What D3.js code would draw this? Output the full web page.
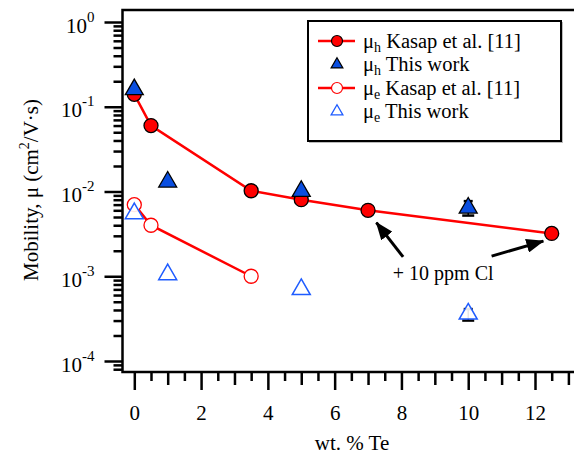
<!DOCTYPE html>
<html lang="en">
<head>
<meta charset="UTF-8">
<title>Mobility vs Te</title>
<script src="https://d3js.org/d3.v7.min.js"></script>
<style>
    body { margin: 0; background: white; }
    svg, svg text { font-family: "Liberation Serif", "Times New Roman", serif; }
</style>
</head>
<body>
<svg width="574" height="454"></svg>
<script>
// data
const teHK = [0, 0.5, 3.5, 5, 7, 12.5];
const muHK = [0.14, 0.06, 0.0102, 0.008, 0.006, 0.0032];
const teHW = [0, 1, 5, 10];
const muHW = [0.16, 0.013, 0.0101, 0.0064];
const teEK = [0, 0.5, 3.5];
const muEK = [0.007, 0.004, 0.001];
const teEW = [0, 1, 5, 10];
const muEW = [0.0055, 0.00105, 0.0007, 0.00036];
// small error bars mostly hidden behind the 10 % points
const errTe = [10, 10];
const errLo = [0.0052, 0.0003];
const errHi = [0.0077, 0.00041];

const xMajor = [0, 2, 4, 6, 8, 10, 12];
const xMid = [1, 3, 5, 7, 9, 11, 13];
const xMinor = [0.5, 1.5, 2.5, 3.5, 4.5, 5.5, 6.5, 7.5, 8.5, 9.5, 10.5, 11.5, 12.5];
const yExp = [0, -1, -2, -3, -4];

const legendLabels = [
    ["h", " Kasap et al. [11]"],
    ["h", " This work"],
    ["e", " Kasap et al. [11]"],
    ["e", " This work"]
];
const noteText = "+ 10 ppm Cl";
// arrows, in data units: [fromTe, fromMu, toTe, toMu]
const arrows = [
    [8.05, 0.00169, 7.25, 0.0043],
    [10.7, 0.00173, 12.25, 0.0026]
];

const FONT = "Liberation Serif";
const svg = d3.select("svg").attr("font-family", FONT);
const pL = 122.5, pR = 574, pT = 10, pB = 372;

const x0 = d3.scaleLinear().domain([0, 12]).range([134.3, 535]);
const x = d3.scaleLinear().domain([x0.invert(pL), x0.invert(pR)]).range([pL, pR]);
const y0 = d3.scaleLog().domain([1e-4, 1]).range([361, 22]);
const y = d3.scaleLog().domain([y0.invert(pB), y0.invert(pT)]).range([pB, pT]);

const RED = "#ff0000", BLUE = "#0a4ee0", BLUE2 = "#1f5cff";

// ---- axes
function styleAxis(g) {
    g.attr("font-family", FONT);
    g.select(".domain").remove();
    g.selectAll("line").attr("stroke", "#000").attr("stroke-width", 2.5);
}
function xTicks(vals, size) {
    svg.append("g").attr("transform", `translate(0,${pB})`)
        .call(d3.axisBottom(x).tickValues(vals).tickSize(size).tickFormat(""))
        .call(styleAxis);
}
xTicks(xMinor, 9);
xTicks(xMid, 13);
const gx = svg.append("g").attr("transform", `translate(0,${pB})`)
    .call(d3.axisBottom(x).tickValues(xMajor).tickSize(18).tickFormat(d3.format("d")))
    .call(styleAxis);
gx.selectAll("text").attr("y", 48).attr("dy", 0)
    .attr("font-size", 21).attr("fill", "#000");

let yMinor = [];
yExp.slice(1).forEach(e => { for (let k = 2; k <= 9; k++) yMinor.push(k * Math.pow(10, e)); });
yMinor.push(...[2, 3, 4, 5, 6, 7, 8, 9].map(k => k * 1e-5).filter(v => v >= y.domain()[0]));
svg.append("g").attr("transform", `translate(${pL},0)`)
    .call(d3.axisLeft(y).tickValues(yMinor).tickSize(9).tickFormat(""))
    .call(styleAxis);
const gy = svg.append("g").attr("transform", `translate(${pL},0)`)
    .call(d3.axisLeft(y).tickValues(yExp.map(e => Math.pow(10, e))).tickSize(18).tickFormat(""))
    .call(styleAxis);
gy.selectAll(".tick").each(function (d) {
    const t = d3.select(this).append("text")
        .attr("x", -28).attr("y", 10).attr("text-anchor", "end")
        .attr("font-size", 21).attr("fill", "#000");
    t.append("tspan").text("10");
    t.append("tspan").attr("dy", -11).attr("font-size", 15).text(String(Math.round(Math.log10(d))));
});

// frame
const frame = svg.append("g").attr("stroke", "#000").attr("stroke-width", 2.5).attr("fill", "none");
frame.append("path").attr("d", `M${pR},${pT}H${pL}V${pB}H${pR}`);

// ---- series
const line = d3.line().x(d => x(d[0])).y(d => y(d[1]));
const tri = d3.symbol().type(d3.symbolTriangle).size(140);

svg.append("path").datum(d3.zip(teHK, muHK)).attr("d", line)
    .attr("fill", "none").attr("stroke", RED).attr("stroke-width", 2.5);
svg.append("path").datum(d3.zip(teEK, muEK)).attr("d", line)
    .attr("fill", "none").attr("stroke", RED).attr("stroke-width", 2.5);

// error bars
const eb = svg.append("g").attr("stroke", "#000").attr("stroke-width", 2.5);
errTe.forEach((t, i) => {
    eb.append("line").attr("x1", x(t)).attr("x2", x(t))
        .attr("y1", y(errLo[i])).attr("y2", y(errHi[i])).attr("stroke-width", 1.5);
    eb.append("line").attr("x1", x(t) - 6).attr("x2", x(t) + 6)
        .attr("y1", y(errLo[i])).attr("y2", y(errLo[i]));
    eb.append("line").attr("x1", x(t) - 4.5).attr("x2", x(t) + 4.5)
        .attr("y1", y(errHi[i])).attr("y2", y(errHi[i]));
});

svg.append("g").selectAll("circle").data(d3.zip(teHK, muHK)).join("circle")
    .attr("cx", d => x(d[0])).attr("cy", d => y(d[1])).attr("r", 7)
    .attr("fill", RED).attr("stroke", "#000").attr("stroke-width", 1.3);
svg.append("g").selectAll("path").data(d3.zip(teHW, muHW)).join("path")
    .attr("d", tri).attr("transform", d => `translate(${x(d[0])},${y(d[1])})`)
    .attr("fill", BLUE).attr("stroke", "#000").attr("stroke-width", 1.3);
svg.append("g").selectAll("circle").data(d3.zip(teEK, muEK)).join("circle")
    .attr("cx", d => x(d[0])).attr("cy", d => y(d[1])).attr("r", 7)
    .attr("fill", "#fff").attr("stroke", RED).attr("stroke-width", 1.3);
svg.append("g").selectAll("path").data(d3.zip(teEW, muEW)).join("path")
    .attr("d", tri).attr("transform", d => `translate(${x(d[0])},${y(d[1])})`)
    .attr("fill", "#fff").attr("fill-opacity", 0.9).attr("stroke", BLUE2).attr("stroke-width", 1.5);

// ---- annotation
svg.append("defs").append("marker")
    .attr("id", "head").attr("markerUnits", "userSpaceOnUse")
    .attr("viewBox", "0 -7 18 14").attr("refX", 17).attr("refY", 0)
    .attr("markerWidth", 18).attr("markerHeight", 14).attr("orient", "auto")
    .append("path").attr("d", "M0,-7L18,0L0,7Z").attr("fill", "#000");
svg.append("g").selectAll("line").data(arrows).join("line")
    .attr("x1", d => x(d[0])).attr("y1", d => y(d[1]))
    .attr("x2", d => x(d[2])).attr("y2", d => y(d[3]))
    .attr("stroke", "#000").attr("stroke-width", 3).attr("marker-end", "url(#head)");
svg.append("text").attr("x", x(9.25)).attr("y", y(0.0009))
    .attr("text-anchor", "middle").attr("font-size", 20).text(noteText);

// ---- titles
svg.append("text").attr("x", 352).attr("y", 450).attr("text-anchor", "middle")
    .attr("font-size", 21).text("wt. % Te");
const yt = svg.append("text").attr("transform", "translate(38,190) rotate(-90)")
    .attr("text-anchor", "middle").attr("font-size", 21);
yt.append("tspan").text("Mobility, \u03bc (cm");
yt.append("tspan").attr("dy", -9).attr("font-size", 14).text("2");
yt.append("tspan").attr("dy", 9).text("/V\u00b7s)");

// ---- legend
const lg = svg.append("g");
lg.append("rect").attr("x", 309.5).attr("y", 22.5).attr("width", 253).attr("height", 120)
    .attr("fill", "none").attr("stroke", "#bbb").attr("stroke-width", 1);
lg.append("rect").attr("x", 308).attr("y", 21).attr("width", 253).attr("height", 120)
    .attr("fill", "#fff").attr("stroke", "#000").attr("stroke-width", 2);
const rows = lg.selectAll("g").data(legendLabels).join("g")
    .attr("transform", (d, i) => `translate(0,${41 + i * 23.5})`);
rows.filter((d, i) => i % 2 === 0).append("line")
    .attr("x1", 318).attr("x2", 355).attr("stroke", RED).attr("stroke-width", 2.5);
rows.filter((d, i) => i === 0).append("circle").attr("cx", 337).attr("r", 5.5)
    .attr("fill", RED).attr("stroke", "#000").attr("stroke-width", 1.2);
rows.filter((d, i) => i === 2).append("circle").attr("cx", 337).attr("r", 5.5)
    .attr("fill", "#fff").attr("stroke", RED).attr("stroke-width", 1.2);
const smallTri = d3.symbol().type(d3.symbolTriangle).size(60);
rows.filter((d, i) => i === 1).append("path").attr("d", smallTri)
    .attr("transform", "translate(337,0)").attr("fill", BLUE).attr("stroke", "#000").attr("stroke-width", 1.2);
rows.filter((d, i) => i === 3).append("path").attr("d", smallTri)
    .attr("transform", "translate(337,0)").attr("fill", "none").attr("stroke", BLUE2).attr("stroke-width", 1.3);
const lt = rows.append("text").attr("x", 363).attr("y", 6.5).attr("font-size", 20.5);
lt.append("tspan").text("\u03bc");
lt.append("tspan").attr("dy", 4).attr("font-size", 14).text(d => d[0]);
lt.append("tspan").attr("dy", -4).text(d => d[1]);
</script>
</body>
</html>
